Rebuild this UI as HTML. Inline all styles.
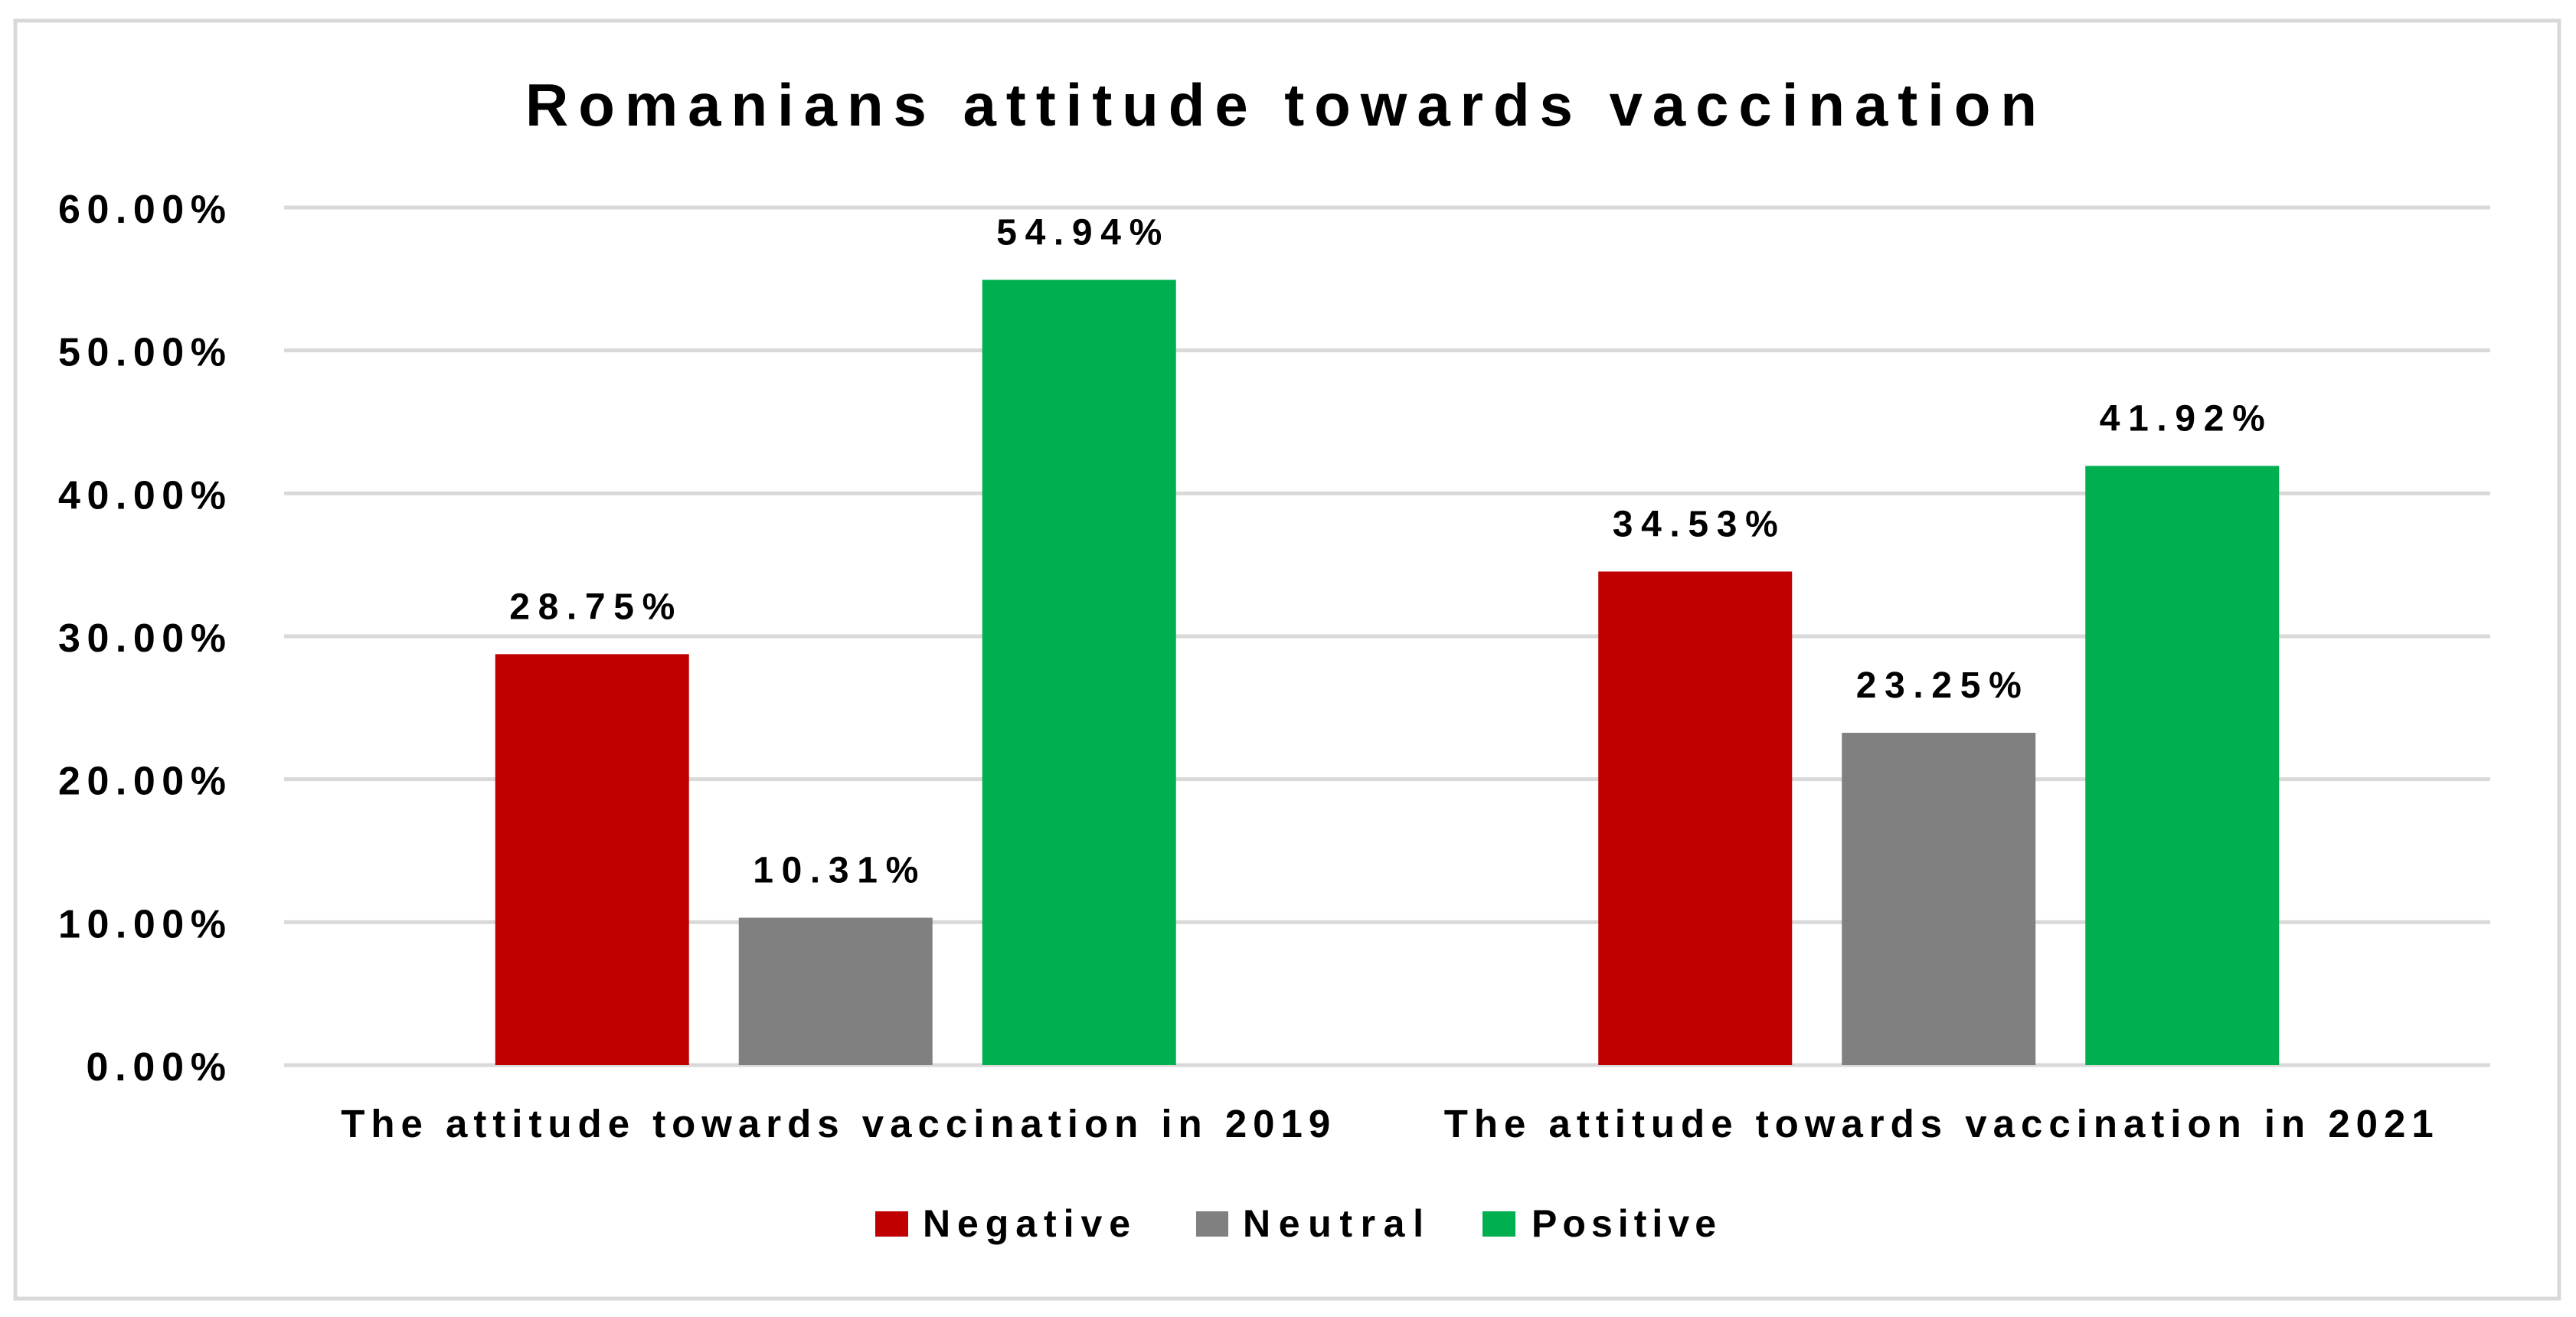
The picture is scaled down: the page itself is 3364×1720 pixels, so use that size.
<!DOCTYPE html>
<html><head><meta charset="utf-8"><style>
html,body{margin:0;padding:0;background:#fff;}
svg{display:block;}
text{font-family:"Liberation Sans Narrow","Liberation Sans",sans-serif;font-weight:bold;fill:#000;}
</style></head><body>
<svg id="chart" width="3364" height="1720" viewBox="0 0 3364 1720" xmlns="http://www.w3.org/2000/svg">
<rect x="20" y="27" width="3322" height="1669" fill="#fff" stroke="#d9d9d9" stroke-width="5"/>
<text x="686" y="164" font-size="78" textLength="1974" lengthAdjust="spacing">Romanians attitude towards vaccination</text>
<g id="grid"></g><g id="bars"></g><g id="labels"></g>
<g>
<rect x="1143" y="1582" width="43" height="33" fill="#c00000"/>
<text x="1205" y="1615" font-size="50" textLength="271" lengthAdjust="spacing">Negative</text>
<rect x="1562" y="1582" width="42" height="33" fill="#808080"/>
<text x="1623" y="1615" font-size="50" textLength="236" lengthAdjust="spacing">Neutral</text>
<rect x="1936" y="1582" width="43" height="33" fill="#00b050"/>
<text x="2000" y="1615" font-size="50" textLength="241" lengthAdjust="spacing">Positive</text>
</g>
</svg>
<script>
const categories = ["The attitude towards vaccination in 2019", "The attitude towards vaccination in 2021"];
const negative = [28.75, 34.53];
const neutral = [10.31, 23.25];
const positive = [54.94, 41.92];
const tickValues = [0, 10, 20, 30, 40, 50, 60];
const tickLabels = ["0.00%", "10.00%", "20.00%", "30.00%", "40.00%", "50.00%", "60.00%"];

const NS = "http://www.w3.org/2000/svg";
const plotL = 371, plotR = 3252, y0 = 1391, yTop = 271, yMax = 60;
function yScale(v){ return y0 - (v / yMax) * (y0 - yTop); }
const catW = (plotR - plotL) / categories.length;
function catCenter(i){ return plotL + catW * (i + 0.5); }
const barW = 253, step = 318;
function mk(tag, attrs, parent){ const e = document.createElementNS(NS, tag); for (const k in attrs) e.setAttribute(k, attrs[k]); parent.appendChild(e); return e; }
const grid = document.getElementById('grid'), bars = document.getElementById('bars'), labels = document.getElementById('labels');

tickValues.forEach((v, i) => {
  const y = yScale(v);
  const ln = mk('line', {x1: plotL, x2: plotR, y1: y, y2: y, stroke: '#d9d9d9', 'stroke-width': 5}, grid);
  
  
  const t = mk('text', {x: 295, y: y + 20, 'font-size': 52, 'text-anchor': 'end'}, grid);
  t.textContent = tickLabels[i];
  
  
  t.setAttribute('textLength', tickLabels[i].length * 36.5);
  t.setAttribute('lengthAdjust', 'spacing');
});

const series = [{vals: negative, color: '#c00000', name: 'negative'}, {vals: neutral, color: '#808080', name: 'neutral'}, {vals: positive, color: '#00b050', name: 'positive'}];
categories.forEach((c, ci) => {
  series.forEach((s, si) => {
    const cx = catCenter(ci) + (si - 1) * step;
    const v = s.vals[ci], top = yScale(v);
    const r = mk('rect', {x: cx - barW / 2, y: top, width: barW, height: y0 - top, fill: s.color}, bars);
    
    
    const lbl = v.toFixed(2) + '%';
    const t = mk('text', {x: cx, y: top - 46, 'font-size': 48, 'text-anchor': 'middle', textLength: 216, lengthAdjust: 'spacing'}, labels);
    t.textContent = lbl;
    
    
  });
  const ct = mk('text', {x: catCenter(ci), y: 1485, 'font-size': 51, 'text-anchor': 'middle', textLength: 1292, lengthAdjust: 'spacing'}, labels);
  ct.textContent = c;
  
  
});
// bring gridlines under bars already ordered; redraw baseline on top of bars
</script>
</body></html>
